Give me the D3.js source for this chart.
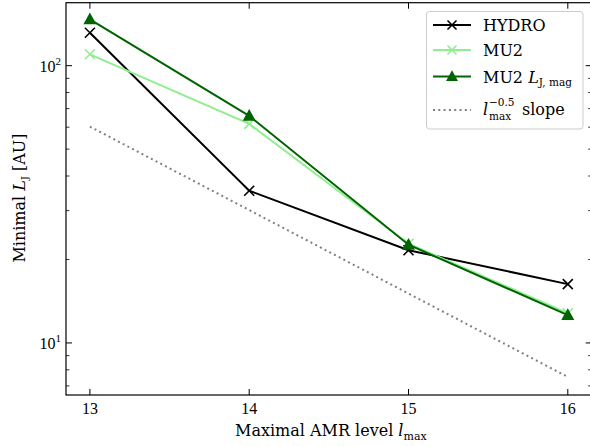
<!DOCTYPE html>
<html><head><meta charset="utf-8">
<script src="https://cdn.jsdelivr.net/npm/d3@7"></script>
<style>
body{margin:0;background:#fff;}
text{font-family:"DejaVu Serif","Liberation Serif",serif;fill:#000;}
.tk{font-family:"Liberation Serif","DejaVu Serif",serif;}
</style></head>
<body><svg id="c" width="590" height="446"></svg>
<script>
const levels = [13, 14, 15, 16];
const hydro = [131.5, 35.4, 21.6, 16.3];
const mu2 = [109.9, 61.7, 22.8, 12.8];
const mu2Mag = [146.8, 65.9, 22.6, 12.6];
const slopeRef = [60.3, 30.15, 15.07, 7.54];
const xTicks = [13, 14, 15, 16];
const yMajor = [10, 100];

const svg = d3.select("#c");
const L = 66, R = 591.7, T = 2.7, B = 395;
const x = d3.scaleLinear().domain([12.85, 16.15]).range([L, R]);
const y = d3.scaleLog().domain([6.49, 168.7]).range([B, T]);

const yMinor = [];
[1, 10, 100].forEach(d => { for (let k = 2; k <= 9; k++) { const v = d * k; if (v > 6.49 && v < 168.7) yMinor.push(v); } });

const g = svg.append("g");
function yTicks(xPos, dir) {
  yMajor.forEach(v => g.append("line").attr("x1", xPos).attr("x2", xPos + dir * 6).attr("y1", y(v)).attr("y2", y(v)).attr("stroke", "#000").attr("stroke-width", 1));
  yMinor.forEach(v => g.append("line").attr("x1", xPos).attr("x2", xPos + dir * 3.5).attr("y1", y(v)).attr("y2", y(v)).attr("stroke", "#000").attr("stroke-width", 0.8));
}
yTicks(L, 1); yTicks(R, -1);
xTicks.forEach(v => {
  g.append("line").attr("x1", x(v)).attr("x2", x(v)).attr("y1", B).attr("y2", B - 6).attr("stroke", "#000");
  g.append("line").attr("x1", x(v)).attr("x2", x(v)).attr("y1", T).attr("y2", T + 6).attr("stroke", "#000");
});

xTicks.forEach(v => g.append("text").attr("class", "tk").attr("x", x(v)).attr("y", B + 19).attr("text-anchor", "middle").attr("font-size", 16).text(v));
yMajor.forEach(v => {
  const t = g.append("text").attr("class", "tk").attr("x", L - 5).attr("y", y(v) + 6).attr("text-anchor", "end").attr("font-size", 16);
  t.append("tspan").text("10");
  t.append("tspan").attr("dy", -7).attr("font-size", 11).text(Math.round(Math.log10(v)));
});

// axis labels
const xl = g.append("text").attr("x", 235).attr("y", 436).attr("font-size", 16);
xl.append("tspan").text("Maximal AMR level ");
xl.append("tspan").attr("font-style", "italic").text("l");
xl.append("tspan").attr("dy", 4).attr("font-size", 11).text("max");

const yl = g.append("text").attr("transform", `translate(25,198) rotate(-90)`).attr("text-anchor", "middle").attr("font-size", 16);
yl.append("tspan").text("Minimal ");
yl.append("tspan").attr("font-style", "italic").text("L");
yl.append("tspan").attr("dy", 3).attr("font-size", 10).text("J");
yl.append("tspan").attr("dy", -3).text(" [AU]");

svg.append("clipPath").attr("id", "clip").append("rect").attr("x", L).attr("y", T).attr("width", R - L).attr("height", B - T);
const p = svg.append("g").attr("clip-path", "url(#clip)");
const line = d3.line().x((d, i) => x(levels[i])).y(d => y(d));

function crossPath(cx, cy, s) { return `M${cx - s},${cy - s}L${cx + s},${cy + s}M${cx - s},${cy + s}L${cx + s},${cy - s}`; }
function triPath(cx, cy, s) { return `M${cx},${cy - s * 1.05}L${cx + s},${cy + s * 0.75}L${cx - s},${cy + s * 0.75}Z`; }

p.append("path").attr("d", line(slopeRef)).attr("fill", "none").attr("stroke", "#808080").attr("stroke-width", 2).attr("stroke-dasharray", "2,3.3");

const series = [
  { v: hydro, c: "#000000", m: "x" },
  { v: mu2, c: "#90ee90", m: "x" },
  { v: mu2Mag, c: "#006400", m: "tri" }
];
series.forEach(s => {
  p.append("path").attr("d", line(s.v)).attr("fill", "none").attr("stroke", s.c).attr("stroke-width", 2);
  s.v.forEach((v, i) => {
    if (s.m === "x") p.append("path").attr("d", crossPath(x(levels[i]), y(v), 5)).attr("stroke", s.c).attr("stroke-width", 1.6).attr("fill", "none");
    else p.append("path").attr("d", triPath(x(levels[i]), y(v), 6.5)).attr("fill", s.c);
  });
});

svg.append("rect").attr("x", L).attr("y", T).attr("width", R - L).attr("height", B - T).attr("fill", "none").attr("stroke", "#000").attr("stroke-width", 1.2);

// legend
const lg = svg.append("g");
lg.append("rect").attr("x", 426.5).attr("y", 11.5).attr("width", 156.5).attr("height", 117.5).attr("rx", 3).attr("fill", "#fff").attr("fill-opacity", 0.8).attr("stroke", "#cccccc").attr("stroke-width", 1);
const rows = [
  { label: "HYDRO", c: "#000", m: "x", y: 25 },
  { label: "MU2", c: "#90ee90", m: "x", y: 50 },
  { label: "MU2mag", c: "#006400", m: "tri", y: 76.5 },
  { label: "slope", c: "#808080", m: "dot", y: 110 }
];
rows.forEach(r => {
  const ln = lg.append("line").attr("x1", 433).attr("x2", 471).attr("y1", r.y).attr("y2", r.y).attr("stroke", r.c).attr("stroke-width", 2);
  if (r.m === "dot") ln.attr("stroke-dasharray", "2,3.3");
  if (r.m === "x") lg.append("path").attr("d", crossPath(452, r.y, 4.5)).attr("stroke", r.c).attr("stroke-width", 1.6);
  if (r.m === "tri") lg.append("path").attr("d", triPath(452, r.y, 6)).attr("fill", r.c);
  if (r.label === "MU2mag") {
    const t = lg.append("text").attr("x", 483).attr("y", r.y + 6).attr("font-size", 16);
    t.append("tspan").text("MU2 ");
    t.append("tspan").attr("font-style", "italic").text("L");
    t.append("tspan").attr("dy", 3.5).attr("font-size", 10.5).text("J, mag");
  } else if (r.label === "slope") {
    lg.append("text").attr("x", 483).attr("y", r.y + 5).attr("font-size", 16).attr("font-style", "italic").text("l");
    lg.append("text").attr("x", 489).attr("y", r.y - 4).attr("font-size", 10.5).text("−0.5");
    lg.append("text").attr("x", 489).attr("y", r.y + 10).attr("font-size", 10.5).text("max");
    lg.append("text").attr("x", 522).attr("y", r.y + 5).attr("font-size", 16).text("slope");
  } else {
    lg.append("text").attr("x", 483).attr("y", r.y + 6).attr("font-size", 16).text(r.label);
  }
});
</script></body></html>
